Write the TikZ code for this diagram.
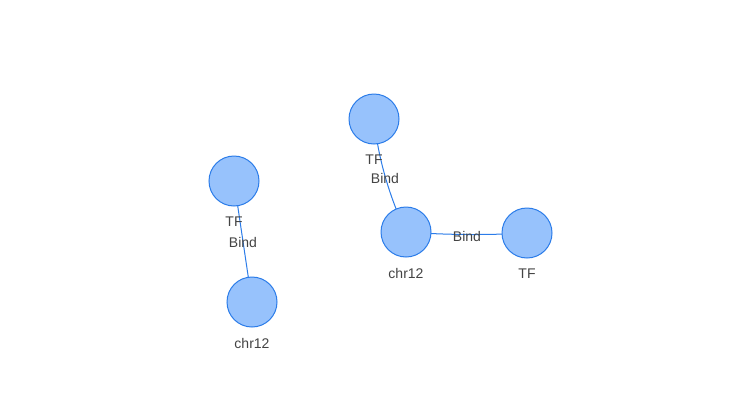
\documentclass[tikz,border=0pt]{standalone}
\usepackage{fontspec}
\setmainfont{Liberation Sans}
\begin{document}
\begin{tikzpicture}[x=1pt,y=-1pt,
  ent/.style={circle,draw=edgeblue,fill=nodeblue,line width=1pt,minimum size=50pt,inner sep=0pt},
  lbl/.style={text=labelgray,font=\fontsize{14}{16}\selectfont,inner sep=0pt},
  rel/.style={draw=edgeblue,line width=1pt}]
\definecolor{nodeblue}{HTML}{97C2FC}
\definecolor{edgeblue}{HTML}{2B7CE9}
\definecolor{labelgray}{HTML}{444444}
\useasboundingbox (0,0) rectangle (742,418);
\fill[white] (0,0) rectangle (742,418);
% node centres
\coordinate (ctf1) at (234,181);
\coordinate (cchrA) at (252,302);
\coordinate (ctf2) at (374,119);
\coordinate (cchrB) at (406,232);
\coordinate (ctf3) at (527,233);
% edges
\draw[rel] (ctf1) -- (cchrA);
\draw[rel] (ctf2) .. controls (378,157.3) and (388.7,195) .. (cchrB);
\draw[rel] (cchrB) .. controls (446.3,235) and (486.7,235.3) .. (ctf3);
% circles
\node[ent] (tf1) at (ctf1) {};
\node[ent] (chrA) at (cchrA) {};
\node[ent] (tf2) at (ctf2) {};
\node[ent] (chrB) at (cchrB) {};
\node[ent] (tf3) at (ctf3) {};
% node labels
\node[lbl] (ltf1) at (234,222) {TF};
\node[lbl] (lchrA) at (252,343) {chr12};
\node[lbl] (ltf2) at (374,160) {TF};
\node[lbl] (lchrB) at (406,273) {chr12};
\node[lbl] (ltf3) at (527,274) {TF};
% edge labels
\node[lbl] (e1) at (243,242) {Bind};
\node[lbl] (e2) at (385,178) {Bind};
\node[lbl] (e3) at (467,236) {Bind};
\end{tikzpicture}
\end{document}
